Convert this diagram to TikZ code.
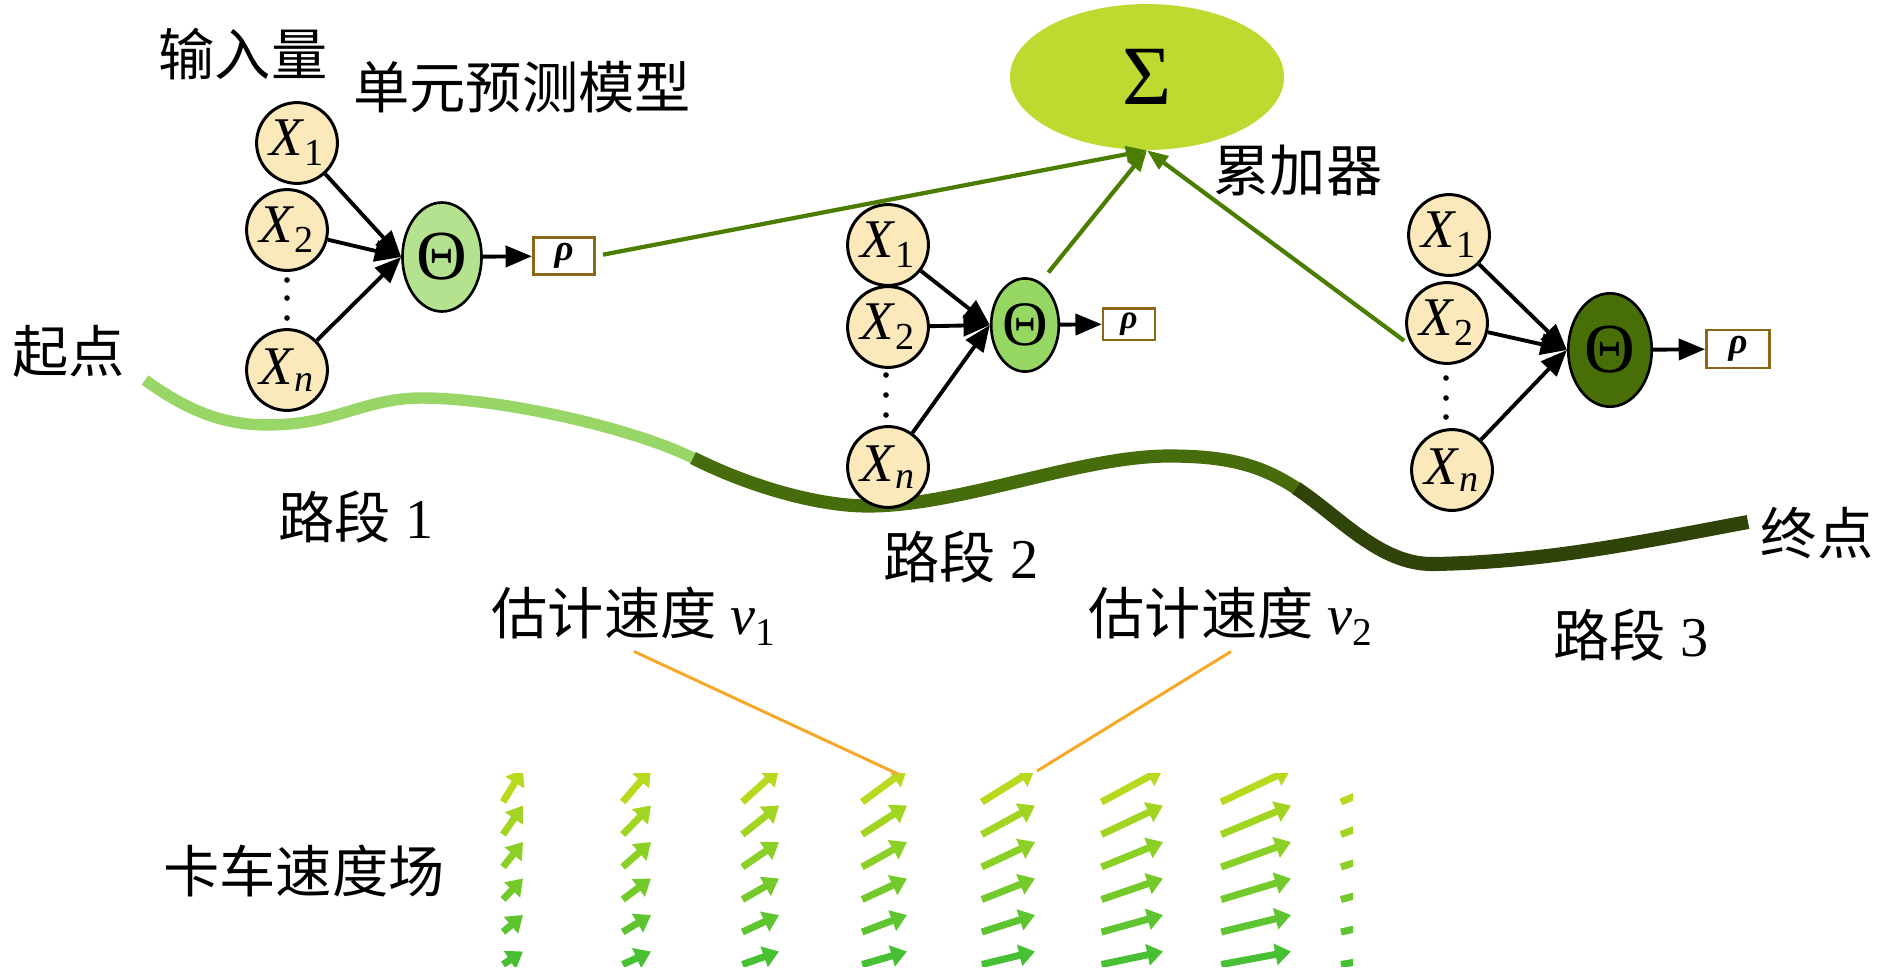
\documentclass[tikz,border=0pt]{standalone}
\usepackage{fontspec}
\setmainfont{Liberation Serif}
\newfontfamily\cjk{Noto Sans CJK SC}
\usetikzlibrary{arrows.meta,shapes.geometric}
\definecolor{cream}{RGB}{251,233,188}
\definecolor{leaf}{RGB}{181,226,143}
\definecolor{grass}{RGB}{150,214,98}
\definecolor{moss}{RGB}{72,110,8}
\definecolor{lime}{RGB}{189,218,48}
\definecolor{sumline}{RGB}{74,125,0}
\definecolor{road1}{RGB}{152,214,104}
\definecolor{road2}{RGB}{70,108,12}
\definecolor{road3}{RGB}{48,68,10}
\definecolor{amber}{RGB}{246,168,38}
\definecolor{fieldtop}{RGB}{184,218,30}
\definecolor{fieldbot}{RGB}{72,192,52}
\definecolor{frame}{RGB}{139,104,22}

\begin{document}
\begin{tikzpicture}[x=0.2mm,y=-0.2mm,
  lbl/.style={font=\fontsize{32}{36}\selectfont},
  invar/.style={circle,draw,line width=1.7pt,fill=cream,minimum size=46pt,inner sep=0pt,font=\fontsize{31}{31}\selectfont},
  unit/.style={ellipse,draw,line width=1.5pt,inner sep=0pt,font=\fontsize{40}{40}\selectfont},
  outbox/.style={rectangle,draw=frame,line width=1.5pt,fill=white,inner sep=0pt,font=\fontsize{21}{21}\selectfont\bfseries\itshape},
  feed/.style={line width=2.2pt,-{Triangle[length=15pt,width=12pt]}},
  tosum/.style={sumline,line width=2.4pt,-{Triangle[length=12pt,width=9pt]}}]
  \useasboundingbox (0,0) rectangle (1890,972);
  % road
  \draw[road1,line width=6.5pt] (145,380) .. controls (200,420) and (240,428) .. (289,424)
    .. controls (340,420) and (370,398) .. (422,398) .. controls (500,398) and (633,428) .. (693,458);
  \draw[road2,line width=7.5pt] (693,458) .. controls (753,488) and (820,506) .. (868,506)
    .. controls (960,506) and (1080,456) .. (1169,456) .. controls (1230,456) and (1262,466) .. (1296,488);
  \draw[road3,line width=8pt] (1296,488) .. controls (1340,517) and (1380,565) .. (1434,564)
    .. controls (1550,562) and (1650,540) .. (1748,522);
  % accumulator
  \node[ellipse,fill=lime,minimum width=156pt,minimum height=83pt,inner sep=0pt,font=\fontsize{48}{48}\selectfont] (sum) at (1147,77) {Σ};
  % unit 1
  \node[invar] (a1) at (297,143) {\textit{X}\textsubscript{1}};
  \node[invar] (a2) at (287,230) {\textit{X}\textsubscript{2}};
  \node[invar] (an) at (287,370) {\textit{X}\textsubscript{\textit{n}}};
  \foreach \d in {280,298,318} \fill (287,\d) circle (1.6pt);
  \node[unit,fill=leaf,minimum width=45pt,minimum height=62pt] (t1) at (442,257) {Θ};
  \node[outbox,minimum width=35pt,minimum height=21pt] (o1) at (564,256) {ρ};
  \foreach \x in {a1,a2,an} \draw[feed] (\x) -- (t1.west);
  \draw[feed] (t1) -- (o1);
  % unit 2
  \node[invar] (b1) at (888,245) {\textit{X}\textsubscript{1}};
  \node[invar] (b2) at (888,327) {\textit{X}\textsubscript{2}};
  \node[invar] (bn) at (888,467) {\textit{X}\textsubscript{\textit{n}}};
  \foreach \d in {375,395,415} \fill (886,\d) circle (1.6pt);
  \node[unit,fill=grass,minimum width=38.5pt,minimum height=53pt,font=\fontsize{36}{36}\selectfont] (t2) at (1025,325) {Θ};
  \node[outbox,minimum width=29.5pt,minimum height=18pt,font=\fontsize{19}{19}\selectfont\bfseries\itshape] (o2) at (1129,324) {ρ};
  \foreach \x in {b1,b2,bn} \draw[feed] (\x) -- (t2.west);
  \draw[feed] (t2) -- (o2);
  % unit 3
  \node[invar] (c1) at (1449,235) {\textit{X}\textsubscript{1}};
  \node[invar] (c2) at (1447,323) {\textit{X}\textsubscript{2}};
  \node[invar] (cn) at (1452,470) {\textit{X}\textsubscript{\textit{n}}};
  \foreach \d in {378,398,417} \fill (1446,\d) circle (1.6pt);
  \node[unit,fill=moss,minimum width=47.5pt,minimum height=64.5pt] (t3) at (1610,350) {Θ};
  \node[outbox,minimum width=36pt,minimum height=21.5pt] (o3) at (1738,349) {ρ};
  \foreach \x in {c1,c2,cn} \draw[feed] (\x) -- (t3.west);
  \draw[feed] (t3) -- (o3);
  % into the accumulator
  \draw[tosum,shorten <=4pt] (o1.east) -- (sum.south);
  \draw[tosum,shorten <=7pt] (t2.70) -- (sum.south);
  \draw[tosum,shorten <=6pt] (c2.215) -- (sum.south);
  % labels
  \node[lbl] (inp) at (243,54) {\cjk 输入量};
  \node[lbl] (mdl) at (522,87) {\cjk 单元预测模型};
  \node[lbl] (acc) at (1298,171) {\cjk 累加器};
  \node[lbl] (start) at (69,351) {\cjk 起点};
  \node[lbl] (end) at (1817,533) {\cjk 终点};
  \node[lbl] (s1) at (356,517) {{\cjk 路段} 1};
  \node[lbl] (s2) at (961,557) {{\cjk 路段} 2};
  \node[lbl] (s3) at (1631,635) {{\cjk 路段} 3};
  \node[lbl] (est1) at (634,616) {{\cjk 估计速度} \textit{v}\textsubscript{1}};
  \node[lbl] (est2) at (1231,616) {{\cjk 估计速度} \textit{v}\textsubscript{2}};
  \node[lbl] (fld) at (304,871) {\cjk 卡车速度场};
  % velocity field
  \begin{scope}
    \clip (495,773) rectangle (1353,966);
    \foreach \i in {0,...,7}
      \foreach \j in {0,...,5}{
        \pgfmathsetmacro\dx{20+8.3*\i}
        \pgfmathsetmacro\dy{33-4*\j}
        \pgfmathtruncatemacro\mix{100-20*\j}
        \draw[fieldtop!\mix!fieldbot,line width=4pt,-{Triangle[length=9pt,width=12pt]}]
          ({523+128*\i-\dx},{769+36.5*\j+\dy}) -- ++(\dx,-\dy);
      }
  \end{scope}
  \coordinate (f1) at (898,774);
  \coordinate (f2) at (1037,771);
  \draw[amber,line width=1.7pt] (est1.south) -- (f1);
  \draw[amber,line width=1.7pt] (est2.south) -- (f2);
\end{tikzpicture}
\end{document}
